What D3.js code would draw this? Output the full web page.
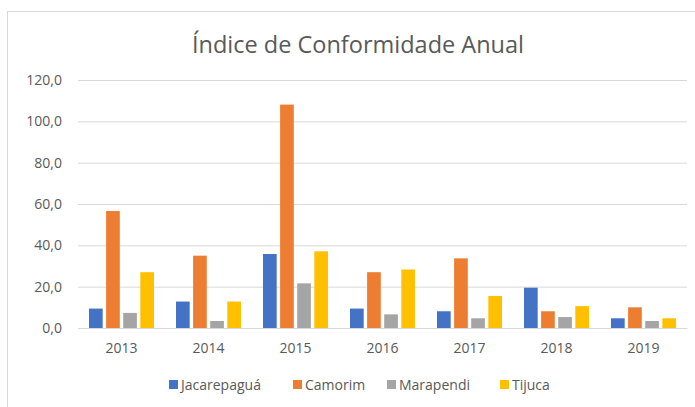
<!DOCTYPE html>
<html>
<head>
<meta charset="utf-8">
<script src="https://cdn.jsdelivr.net/npm/d3@7"></script>
<style>
  body { margin: 0; background: #fff; }
  svg { display: block; font-family: "Open Sans", sans-serif; }
</style>
</head>
<body>
<svg id="chart" width="695" height="407"></svg>
<script>
// data
var years = ['2013', '2014', '2015', '2016', '2017', '2018', '2019'];
var seriesNames = ['Jacarepaguá', 'Camorim', 'Marapendi', 'Tijuca'];
var jacarepagua = [9.4, 12.8, 35.8, 9.4, 8.1, 19.5, 4.7];
var camorim = [56.6, 35.0, 108.1, 27.0, 33.7, 8.1, 10.0];
var marapendi = [7.3, 3.4, 21.6, 6.6, 4.7, 5.3, 3.4];
var tijuca = [27.0, 12.8, 37.1, 28.3, 15.5, 10.6, 4.7];
var yTicks = [0, 20, 40, 60, 80, 100, 120];
var colors = ['#4472C4', '#ED7D31', '#A5A5A5', '#FFC000'];

(function() {
var seriesValues = [jacarepagua, camorim, marapendi, tijuca];

var svg = d3.select('#chart'),
    pLeft = 78, pRight = 687, pTop = 80, pBottom = 328;

// chart frame
svg.append('rect')
  .attr('x', 7.5).attr('y', 11.5)
  .attr('width', 720).attr('height', 420)
  .attr('fill', '#fff')
  .attr('stroke', '#d9d9d9');

svg.append('text')
  .attr('x', 358).attr('y', 53)
  .attr('text-anchor', 'middle')
  .attr('fill', '#595959')
  .style('font-size', '23.5px')
  .text('Índice de Conformidade Anual');

var y = d3.scaleLinear().domain([0, 120]).range([pBottom, pTop]);
var x0 = d3.scaleBand().domain(years).range([pLeft, pRight]);
var x1 = d3.scaleBand().domain(seriesNames)
  .range([11, x0.bandwidth() - 11]).paddingInner(0.2);

// gridlines + y labels
var yAxis = d3.axisLeft(y)
  .tickValues(yTicks)
  .tickSize(-(pRight - pLeft))
  .tickPadding(16)
  .tickFormat(function(d) { return d3.format('.1f')(d).replace('.', ','); });

var gy = svg.append('g')
  .attr('transform', 'translate(' + pLeft + ',0)')
  .call(yAxis)
  .attr('font-family', null);
gy.select('.domain').remove();
gy.selectAll('line').attr('stroke', '#d9d9d9');
gy.selectAll('text').attr('fill', '#595959').style('font-size', '14px');

// bars
var groups = svg.append('g').selectAll('g')
  .data(years)
  .enter().append('g')
  .attr('transform', function(d) { return 'translate(' + x0(d) + ',0)'; });

groups.selectAll('rect')
  .data(function(d, i) {
    return seriesNames.map(function(s, j) { return { name: s, value: seriesValues[j][i], idx: j }; });
  })
  .enter().append('rect')
  .attr('x', function(d) { return x1(d.name); })
  .attr('width', x1.bandwidth())
  .attr('y', function(d) { return y(d.value); })
  .attr('height', function(d) { return y(0) - y(d.value); })
  .attr('fill', function(d) { return colors[d.idx]; });

// x labels
var xAxis = d3.axisBottom(x0).tickSize(0).tickPadding(15);
var gx = svg.append('g')
  .attr('transform', 'translate(0,' + pBottom + ')')
  .call(xAxis)
  .attr('font-family', null);
gx.select('.domain').attr('stroke', '#d9d9d9');
gx.selectAll('text').attr('fill', '#595959').style('font-size', '14px');

// legend
var legendX = [169, 293, 387, 500];
var legend = svg.append('g').selectAll('g')
  .data(seriesNames)
  .enter().append('g')
  .attr('transform', function(d, i) { return 'translate(' + legendX[i] + ',380)'; });
legend.append('rect')
  .attr('width', 9).attr('height', 9)
  .attr('fill', function(d, i) { return colors[i]; });
legend.append('text')
  .attr('x', 12).attr('y', 9.5)
  .attr('fill', '#595959')
  .style('font-size', '14px')
  .text(function(d) { return d; });
})();
</script>
</body>
</html>
